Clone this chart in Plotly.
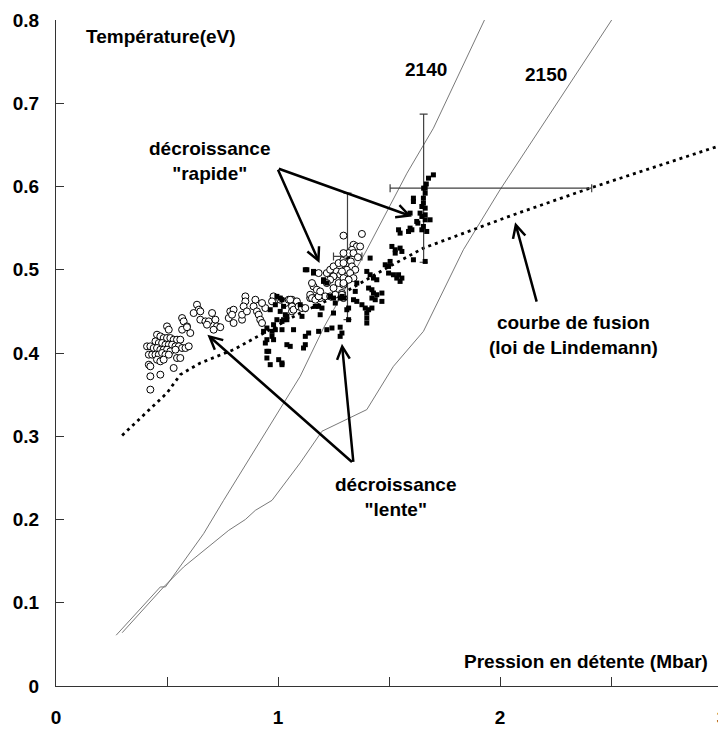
import plotly.graph_objects as go

# Points "décroissance" (cercles ouverts)
circ_x = [0.635, 0.643, 0.620, 0.650, 0.673, 0.688, 0.568, 0.575, 0.590, 0.605,
          0.500, 0.508, 0.455, 0.470, 0.485, 0.500, 0.515, 0.530, 0.545, 0.560,
          0.448, 0.463, 0.478, 0.493, 0.508, 0.523, 0.538, 0.553, 0.568, 0.583,
          0.598, 0.410, 0.425, 0.440, 0.455, 0.470, 0.485, 0.500, 0.515, 0.538,
          0.418, 0.433, 0.448, 0.463, 0.478, 0.493, 0.508, 0.455, 0.470, 0.485,
          0.545, 0.560, 0.418, 0.425, 0.530, 0.425, 0.470, 0.425, 0.568, 0.590,
          0.650, 0.703, 0.718, 0.725, 0.710, 0.680, 0.740, 0.778, 0.785, 0.800,
          0.793, 0.800, 0.838, 0.838, 0.853, 0.853, 0.845, 0.860, 0.898, 0.890,
          0.905, 0.913, 0.920, 0.928, 0.943, 0.928, 0.980, 0.973, 1.010, 1.040,
          1.063, 1.078, 1.063, 1.085, 1.033, 1.048, 1.055, 1.063, 1.070, 1.093,
          1.108, 1.123, 1.145, 1.168, 1.190, 1.213, 1.235, 1.145, 1.153, 1.168,
          1.183, 1.160, 1.153, 1.175, 1.190, 1.183, 1.220, 1.235, 1.250, 1.273,
          1.295, 1.303, 1.265, 1.280, 1.303, 1.310, 1.250, 1.235, 1.220, 1.250,
          1.273, 1.295, 1.258, 1.288, 1.295, 1.378, 1.340, 1.355, 1.370, 1.333,
          1.318, 1.295, 1.340, 1.328, 1.295, 1.333, 1.310, 1.348, 1.288, 1.325,
          1.295, 1.340, 1.318, 1.295, 1.288, 1.295, 1.360]
circ_y = [0.458, 0.452, 0.448, 0.440, 0.438, 0.438, 0.442, 0.438, 0.432, 0.424,
          0.432, 0.428, 0.422, 0.420, 0.418, 0.418, 0.418, 0.416, 0.416, 0.416,
          0.414, 0.412, 0.412, 0.410, 0.410, 0.410, 0.408, 0.408, 0.406, 0.406,
          0.408, 0.408, 0.408, 0.406, 0.406, 0.404, 0.404, 0.404, 0.402, 0.404,
          0.398, 0.398, 0.398, 0.398, 0.400, 0.398, 0.398, 0.392, 0.390, 0.392,
          0.394, 0.394, 0.386, 0.384, 0.382, 0.372, 0.374, 0.356, 0.428, 0.431,
          0.450, 0.448, 0.440, 0.432, 0.428, 0.434, 0.431, 0.442, 0.450, 0.452,
          0.446, 0.436, 0.440, 0.446, 0.468, 0.462, 0.456, 0.450, 0.464, 0.456,
          0.450, 0.446, 0.440, 0.436, 0.454, 0.460, 0.468, 0.462, 0.464, 0.462,
          0.464, 0.458, 0.450, 0.462, 0.460, 0.464, 0.464, 0.456, 0.452, 0.456,
          0.454, 0.454, 0.466, 0.466, 0.466, 0.468, 0.468, 0.470, 0.466, 0.464,
          0.468, 0.480, 0.484, 0.476, 0.474, 0.496, 0.496, 0.500, 0.504, 0.508,
          0.512, 0.518, 0.498, 0.494, 0.500, 0.508, 0.492, 0.488, 0.484, 0.478,
          0.484, 0.482, 0.470, 0.472, 0.541, 0.543, 0.530, 0.528, 0.528, 0.524,
          0.520, 0.520, 0.520, 0.510, 0.508, 0.504, 0.500, 0.500, 0.498, 0.496,
          0.490, 0.490, 0.488, 0.484, 0.470, 0.466, 0.515]

# Points (carrés pleins)
sq_x = [0.965, 0.988, 0.995, 1.018, 1.025, 1.010, 1.033, 1.040, 1.018, 0.995,
        0.980, 0.950, 0.935, 0.973, 0.988, 1.018, 1.070, 0.950, 0.943, 1.040,
        1.055, 0.950, 0.958, 0.950, 0.965, 1.003, 1.018, 0.973, 1.010, 0.980,
        1.040, 1.025, 1.108, 1.168, 1.198, 1.190, 1.250, 1.258, 1.295, 1.250,
        1.138, 1.123, 1.183, 1.220, 1.243, 1.280, 1.288, 1.280, 1.115, 1.123,
        1.018, 1.310, 1.130, 1.160, 1.205, 1.220, 1.288, 1.235, 1.183, 1.100,
        1.513, 1.528, 1.550, 1.558, 1.528, 1.415, 1.505, 1.483, 1.498, 1.610,
        1.663, 1.400, 1.415, 1.430, 1.445, 1.498, 1.520, 1.543, 1.535, 1.558,
        1.550, 1.355, 1.408, 1.423, 1.430, 1.445, 1.348, 1.468, 1.468, 1.423,
        1.438, 1.340, 1.355, 1.378, 1.393, 1.408, 1.423, 1.400, 1.400, 1.400,
        1.318, 1.318, 1.678, 1.700, 1.663, 1.663, 1.655, 1.610, 1.610, 1.655,
        1.648, 1.640, 1.595, 1.663, 1.648, 1.625, 1.663, 1.685, 1.655, 1.648,
        1.595, 1.670, 1.543, 1.550, 1.588, 1.603, 1.668, 1.663, 1.630, 1.123,
        1.160, 1.205, 1.235, 1.280]
sq_y = [0.452, 0.458, 0.468, 0.464, 0.456, 0.450, 0.446, 0.440, 0.438, 0.440,
        0.434, 0.430, 0.426, 0.426, 0.428, 0.428, 0.428, 0.416, 0.412, 0.410,
        0.408, 0.402, 0.402, 0.394, 0.386, 0.392, 0.388, 0.420, 0.466, 0.416,
        0.444, 0.440, 0.444, 0.456, 0.454, 0.446, 0.448, 0.460, 0.466, 0.466,
        0.424, 0.420, 0.426, 0.428, 0.430, 0.431, 0.424, 0.420, 0.406, 0.410,
        0.386, 0.452, 0.500, 0.496, 0.486, 0.484, 0.468, 0.468, 0.456, 0.458,
        0.528, 0.524, 0.526, 0.522, 0.520, 0.514, 0.510, 0.506, 0.504, 0.512,
        0.510, 0.498, 0.494, 0.490, 0.488, 0.496, 0.494, 0.494, 0.490, 0.490,
        0.486, 0.484, 0.478, 0.476, 0.472, 0.470, 0.474, 0.472, 0.462, 0.466,
        0.464, 0.464, 0.462, 0.458, 0.454, 0.452, 0.454, 0.448, 0.442, 0.436,
        0.454, 0.440, 0.610, 0.614, 0.598, 0.592, 0.586, 0.586, 0.582, 0.580,
        0.576, 0.568, 0.568, 0.566, 0.564, 0.558, 0.560, 0.560, 0.552, 0.548,
        0.550, 0.546, 0.548, 0.544, 0.546, 0.548, 0.603, 0.574, 0.556, 0.500,
        0.498, 0.488, 0.468, 0.466]

# courbes 2140 / 2150
tir2140_x = [0.271, 0.470, 0.493, 0.665, 0.755, 1.100, 1.205, 1.400, 1.581, 1.700, 1.930]
tir2140_y = [0.061, 0.119, 0.119, 0.183, 0.223, 0.372, 0.430, 0.524, 0.616, 0.670, 0.800]
tir2150_x = [0.298, 0.485, 0.575, 0.778, 0.853, 0.898, 0.973, 1.100, 1.198, 1.400,
             1.520, 1.655, 1.835, 2.000, 2.503]
tir2150_y = [0.064, 0.119, 0.143, 0.187, 0.200, 0.211, 0.223, 0.268, 0.306, 0.332,
             0.384, 0.426, 0.524, 0.596, 0.800]

# courbe de fusion (Lindemann)
lind_x = [0.298, 0.500, 0.560, 0.650, 0.800, 0.935, 1.100, 1.295, 1.475, 1.655, 2.060, 2.405, 2.990]
lind_y = [0.301, 0.352, 0.374, 0.388, 0.404, 0.424, 0.448, 0.472, 0.500, 0.526, 0.566, 0.598, 0.649]

# barres d'erreur
err_x = [1.656, 1.313]
err_y = [0.598, 0.516]
err_y_sym = [0.089, 0.076]
err_x_plus = [0.757, 0.065]
err_x_minus = [0.151, 0.063]

fig = go.Figure()

fig.add_trace(go.Scatter(x=tir2140_x, y=tir2140_y, mode="lines",
                         line=dict(color="#6a6a6a", width=0.9)))
fig.add_trace(go.Scatter(x=tir2150_x, y=tir2150_y, mode="lines",
                         line=dict(color="#6a6a6a", width=0.9)))
fig.add_trace(go.Scatter(x=lind_x, y=lind_y, mode="lines",
                         line=dict(color="black", width=2.8, dash="3px,4px")))
fig.add_trace(go.Scatter(x=err_x, y=err_y, mode="markers",
                         marker=dict(symbol="square", size=5, color="black"),
                         error_y=dict(type="data", array=err_y_sym, color="#404040",
                                      thickness=1.2, width=4),
                         error_x=dict(type="data", array=err_x_plus, arrayminus=err_x_minus,
                                      color="#404040", thickness=1.2, width=4)))
fig.add_trace(go.Scatter(x=circ_x, y=circ_y, mode="markers",
                         marker=dict(symbol="circle", size=7, color="white",
                                     line=dict(color="black", width=1))))
fig.add_trace(go.Scatter(x=sq_x, y=sq_y, mode="markers",
                         marker=dict(symbol="square", size=5, color="black")))

# flèches
fleches = [
    (1.603, 0.564, 0.997, 0.622),
    (1.187, 0.508, 0.997, 0.622),
    (0.682, 0.422, 1.340, 0.2675),
    (1.288, 0.411, 1.340, 0.2675),
    (2.068, 0.557, 2.167, 0.460),
]
for x1, y1, x0, y0 in fleches:
    fig.add_annotation(x=x1, y=y1, ax=x0, ay=y0, xref="x", yref="y", axref="x", ayref="y",
                       text="", showarrow=True, arrowhead=5, arrowsize=1,
                       arrowwidth=2.5, arrowcolor="black")

textes = [
    ("Température(eV)", 0.475, 0.780),
    ("2140", 1.667, 0.740),
    ("2150", 2.208, 0.734),
    ("décroissance<br>\"rapide\"", 0.693, 0.631),
    ("courbe de fusion<br>(loi de Lindemann)", 2.329, 0.4216),
    ("décroissance<br>\"lente\"", 1.528, 0.227),
    ("Pression en détente (Mbar)", 2.388, 0.030),
]
for t, x, y in textes:
    fig.add_annotation(x=x, y=y, xref="x", yref="y", text=t, showarrow=False,
                       xanchor="center", yanchor="middle")

# la page a une marge de 8 px : figure réduite d'autant
fig.update_layout(
    width=718, height=722,
    margin=dict(l=48, r=4, t=12, b=44),
    plot_bgcolor="white", paper_bgcolor="white",
    showlegend=False,
    font=dict(family="Liberation Sans, Arial, sans-serif", size=19, color="black", weight="bold"),
)
fig.update_xaxes(range=[0, 3], showgrid=False, zeroline=False, showline=True,
                 linecolor="#333333", linewidth=1.2, automargin=False,
                 tickvals=[0, 0.5, 1, 1.5, 2, 2.5, 3],
                 ticktext=["0", "", "1", "", "2", "", "3"],
                 ticks="inside", ticklen=9, tickcolor="#333333",
                 ticklabelstandoff=14, ticklabeloverflow="allow")
fig.update_yaxes(range=[0, 0.8], showgrid=False, zeroline=False, showline=True,
                 linecolor="#333333", linewidth=1.2, dtick=0.1, automargin=False,
                 ticks="inside", ticklen=8, tickcolor="#333333",
                 ticklabelstandoff=12)

fig.write_html("out.html")
